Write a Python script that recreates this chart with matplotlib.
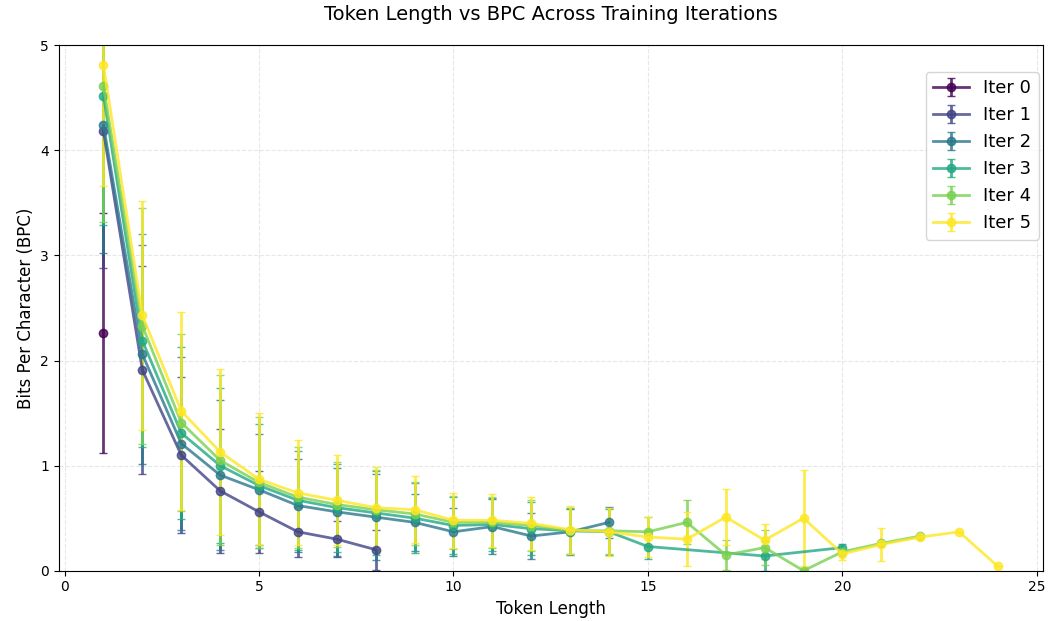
import numpy as np
import matplotlib
matplotlib.use("Agg")
from matplotlib import pyplot as plt

# values
x0 = [1]
bpc0 = [2.26]
err0 = [1.14]

x1 = [1, 2, 3, 4, 5, 6, 7, 8]
bpc1 = [4.18, 1.91, 1.10, 0.76, 0.56, 0.37, 0.30, 0.20]
err1 = [1.30, 0.99, 0.74, 0.59, 0.39, 0.24, 0.17, 0.19]

x2 = [1, 2, 3, 4, 5, 6, 7, 8, 9, 10, 11, 12, 13, 14]
bpc2 = [4.24, 2.06, 1.21, 0.91, 0.77, 0.62, 0.56, 0.51, 0.46, 0.37, 0.42, 0.33, 0.37, 0.46]
err2 = [1.22, 1.04, 0.82, 0.71, 0.53, 0.44, 0.42, 0.41, 0.27, 0.23, 0.26, 0.22, 0.22, 0.15]

x3 = [1, 2, 3, 4, 5, 6, 7, 8, 9, 10, 11, 12, 13, 14, 15, 18, 20]
bpc3 = [4.52, 2.19, 1.31, 1.00, 0.81, 0.67, 0.60, 0.55, 0.50, 0.43, 0.44, 0.40, 0.38, 0.37,
        0.23, 0.14, 0.22]
err3 = [1.23, 1.01, 0.82, 0.74, 0.59, 0.47, 0.42, 0.40, 0.33, 0.27, 0.25, 0.25, 0.22, 0.22,
        0.12, 0.14, 0.03]

x4 = [1, 2, 3, 4, 5, 6, 7, 8, 9, 10, 11, 12, 13, 14, 15, 16, 17, 18, 19, 20, 21, 22]
bpc4 = [4.61, 2.33, 1.41, 1.05, 0.84, 0.70, 0.63, 0.58, 0.54, 0.46, 0.46, 0.43, 0.38, 0.38,
        0.37, 0.46, 0.15, 0.22, 0.00, 0.18, 0.26, 0.33]
err4 = [1.29, 1.12, 0.84, 0.81, 0.62, 0.48, 0.40, 0.38, 0.30, 0.25, 0.24, 0.24, 0.22, 0.22,
        0.14, 0.21, 0.14, 0.17, 0.00, 0.00, 0.00, 0.00]

x5 = [1, 2, 3, 4, 5, 6, 7, 8, 9, 10, 11, 12, 13, 14, 15, 16, 17, 18, 19, 20, 21, 22, 23, 24]
bpc5 = [4.81, 2.43, 1.52, 1.13, 0.87, 0.74, 0.67, 0.60, 0.58, 0.48, 0.48, 0.45, 0.39, 0.37,
        0.32, 0.30, 0.51, 0.29, 0.50, 0.16, 0.25, 0.32, 0.37, 0.04]
err5 = [1.15, 1.09, 0.94, 0.79, 0.63, 0.50, 0.43, 0.39, 0.32, 0.26, 0.25, 0.25, 0.23, 0.23,
        0.19, 0.26, 0.27, 0.15, 0.46, 0.06, 0.16, 0.00, 0.00, 0.00]

series = [(x0, bpc0, err0), (x1, bpc1, err1), (x2, bpc2, err2),
          (x3, bpc3, err3), (x4, bpc4, err4), (x5, bpc5, err5)]

colors = plt.cm.viridis(np.linspace(0, 1, len(series)))

fig = plt.figure(figsize=(10.49, 6.21), dpi=100)
ax = fig.add_axes([0.056, 0.081, 0.938, 0.846])

for i, (xs, ys, es) in enumerate(series):
    ax.errorbar(xs, ys, yerr=es, color=colors[i], marker='o', markersize=6,
                linewidth=2, capsize=3, alpha=0.8, label=f'Iter {i}')

ax.set_ylim(0, 5)
ax.set_title('Token Length vs BPC Across Training Iterations', fontsize=14, pad=18)
ax.set_xlabel('Token Length', fontsize=12)
ax.set_ylabel('Bits Per Character (BPC)', fontsize=12)
ax.grid(True, linestyle='--', alpha=0.3)
ax.legend(loc='upper right', fontsize=13, bbox_to_anchor=(0.996, 0.949), borderaxespad=0)

fig.savefig('out.png', dpi=100)
